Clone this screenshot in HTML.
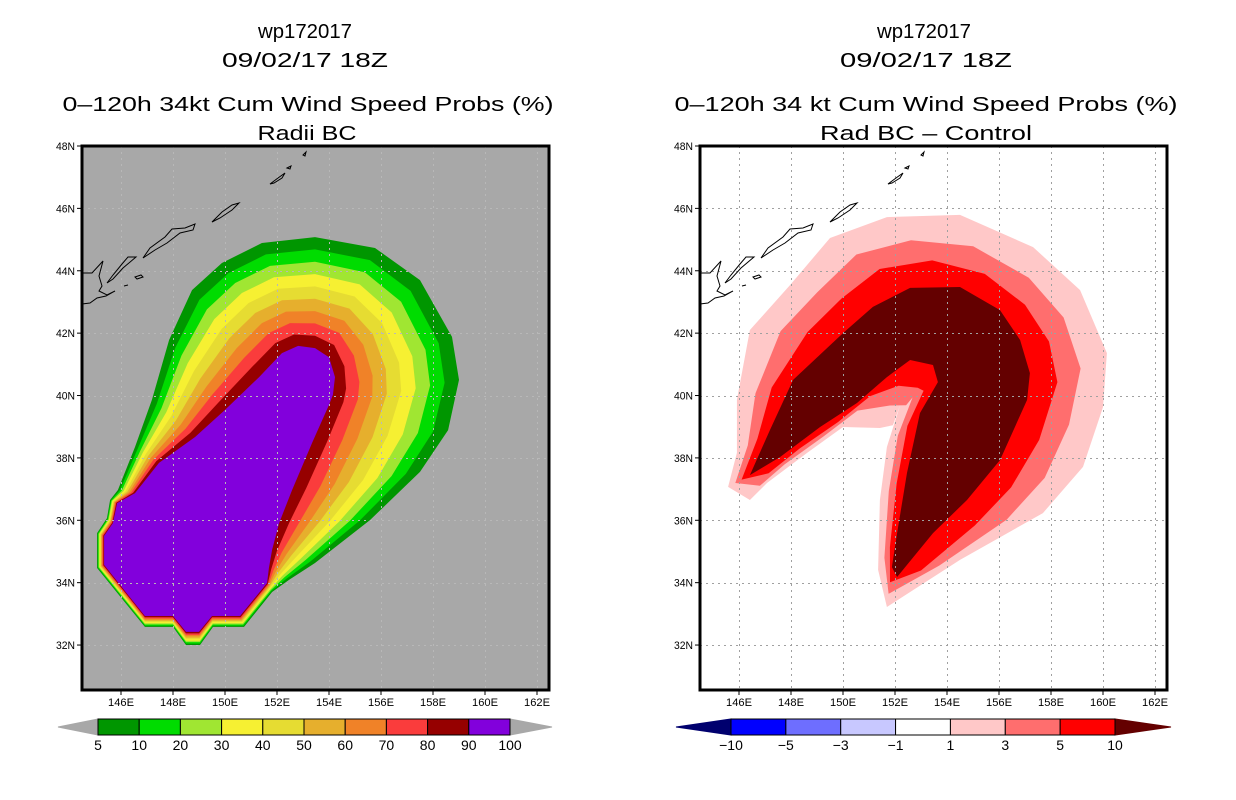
<!DOCTYPE html>
<html><head><meta charset="utf-8"><style>
html,body{margin:0;padding:0;background:#fff;}
svg{display:block;font-family:"Liberation Sans",sans-serif;}
</style></head><body>
<svg id="root" width="1236" height="800" viewBox="0 0 1236 800" xmlns="http://www.w3.org/2000/svg">
<g id="titles" fill="#000" font-size="20">
  <text x="305" y="38" text-anchor="middle" textLength="94" lengthAdjust="spacingAndGlyphs">wp172017</text>
  <text x="305" y="67" text-anchor="middle" textLength="166" lengthAdjust="spacingAndGlyphs">09/02/17 18Z</text>
  <text x="308" y="111" text-anchor="middle" textLength="491" lengthAdjust="spacingAndGlyphs">0–120h 34kt Cum Wind Speed Probs (%)</text>
  <text x="307" y="140" text-anchor="middle" textLength="99" lengthAdjust="spacingAndGlyphs">Radii BC</text>
  <text x="924" y="38" text-anchor="middle" textLength="94" lengthAdjust="spacingAndGlyphs">wp172017</text>
  <text x="926" y="67" text-anchor="middle" textLength="172" lengthAdjust="spacingAndGlyphs">09/02/17 18Z</text>
  <text x="926" y="111" text-anchor="middle" textLength="503" lengthAdjust="spacingAndGlyphs">0–120h 34 kt Cum Wind Speed Probs (%)</text>
  <text x="926" y="140" text-anchor="middle" textLength="212" lengthAdjust="spacingAndGlyphs">Rad BC – Control</text>
</g>
<g id="leftPanel"></g>
<g id="rightPanel"></g>
<g id="leftBar"></g>
<g id="rightBar"></g>
</svg>
<script>
// ---- data ----
const lonTicks = [146,148,150,152,154,156,158,160,162];
const latTicks = [48,46,44,42,40,38,36,34,32];
const leftLevels = ["5","10","20","30","40","50","60","70","80","90","100"];
const leftColors = ["#009600","#00dc00","#a0e632","#f6f032","#e6dc32","#e6af2d","#f08228","#fa3c3c","#960000","#8200dc"];
const rightLevels = ["−10","−5","−3","−1","1","3","5","10"];
const rightColors = ["#0000ff","#6e6eff","#c8c8ff","#ffffff","#ffc8c8","#ff6e6e","#ff0000"];
// 5% contour (lon,lat)
const leftOuterLon = [151.81,150.73,149.54,149.04,148.5,148.0,146.92,145.08,145.08,145.46,145.58,145.88,146.54,147.19,147.85,148.73,149.88,151.42,153.46,155.77,157.5,158.73,159.0,158.58,157.5,155.58,153.46,152.46];
const leftOuterLat = [33.7,32.58,32.58,32.0,32.0,32.58,32.58,34.47,35.59,36.07,36.65,36.97,38.35,39.86,41.78,43.38,44.25,44.89,45.08,44.73,43.7,41.88,40.5,38.89,37.55,36.01,34.63,34.09];
// 90% contour
const leftInnerLon = [151.62,150.58,149.5,149.0,148.5,148.0,146.92,145.35,145.35,145.69,145.85,146.54,147.46,148.85,150.0,151.31,152.19,152.81,153.46,154.0,154.23,154.15,154.0,153.35,152.58,152.08,151.81,151.69];
const leftInnerLat = [33.99,32.93,32.93,32.42,32.42,32.93,32.93,34.57,35.5,35.91,36.55,36.87,37.84,38.67,39.54,40.59,41.36,41.59,41.52,41.23,40.59,40.02,39.7,38.48,36.97,35.91,35.05,34.47];
// +1 contour and +10 contour of difference field
const rightOuterLon = [145.58,145.92,145.92,146.42,147.96,149.5,151.69,154.5,157.31,159.12,160.15,160.0,159.23,157.69,154.5,151.69,151.35,151.42,151.69,152.2,151.92,151.42,150.0,148.62,147.08,146.42];
const rightOuterLat = [37.07,38.16,39.86,42.1,43.54,45.05,45.72,45.79,44.76,43.38,41.36,39.63,37.71,36.23,34.73,33.22,34.41,36.65,38.35,39.7,39.05,38.96,38.99,38.16,37.2,36.65];
const rightInnerLon = [146.42,147.19,148.08,150.0,151.15,152.58,154.5,156.04,156.81,157.19,157.08,156.04,154.77,153.46,152.08,151.88,152.08,152.46,152.96,153.65,153.46,152.58,151.69,150.54,149.12,147.58];
const rightInnerLat = [37.45,38.89,40.5,42.0,42.84,43.45,43.48,42.74,41.78,40.72,39.86,37.93,36.65,35.59,34.18,34.5,35.59,37.52,39.44,40.43,40.98,41.14,40.59,39.76,38.99,38.03];

// ---- projection ----
const NS="http://www.w3.org/2000/svg";
const TOP=146, BOT=690, LON0=144.5, DX=26, DY=31.19;
function mk(tag, attrs, parent){const e=document.createElementNS(NS,tag);for(const k in attrs)e.setAttribute(k,attrs[k]);parent.appendChild(e);return e;}
function projX(x0,lon){return x0+(lon-LON0)*DX;}
function projY(lat){return TOP+(48-lat)*DY;}

function drawPanel(g,x0,bg,gridCol,outerLon,outerLat,innerLon,innerLat,colors,nBands,tStart,prefix){
  const W=467;
  const bgr=mk('rect',{x:x0,y:TOP,width:W,height:BOT-TOP,fill:bg},g);
  
  
  // nested contours: band i from t_i
  for(let i=0;i<nBands;i++){
    const t=tStart[i];
    let d='';
    for(let j=0;j<outerLon.length;j++){
      const lon=outerLon[j]+(innerLon[j]-outerLon[j])*t;
      const lat=outerLat[j]+(innerLat[j]-outerLat[j])*t;
      d+=(j?'L':'M')+projX(x0,lon).toFixed(1)+','+projY(lat).toFixed(1);
    }
    const p=mk('path',{d:d+'Z',fill:colors[i]},g);
    
    
  }
  // grid
  const grid=mk('g',{stroke:gridCol,'stroke-width':1,'stroke-dasharray':'2,4'},g);
  
  
  lonTicks.forEach(l=>{const x=Math.round(projX(x0,l))+0.5;mk('line',{x1:x,x2:x,y1:TOP,y2:BOT},grid);});
  latTicks.forEach(l=>{const y=Math.round(projY(l))+0.5;mk('line',{x1:x0,x2:x0+W,y1:y,y2:y},grid);});
  // coastlines
  const c=mk('g',{fill:'none',stroke:'#000','stroke-width':1,transform:'translate('+(x0-82)+',0)'},g);
  
  
  ['M82,273L92,273L103,261L99,276L102,286L99,291L107,295L115,291L106,296L97,298L90,303L82,304',
   'M107,283L113,275L122,264L128,257L136,257L123,268L113,279Z',
   'M143,258L150,248L165,237L172,229L185,228L195,224L193,230L180,233L167,243L155,250Z',
   'M212,222L222,212L232,205L239,203L232,210L220,218Z',
   'M270,184L278,178L285,173L282,178L274,183Z',
   'M287,168L291,166L290,169Z','M303,155L306,152L305,156Z',
   'M135,277L141,275L143,277L137,279Z','M124,286L128,285'].forEach(d=>mk('path',{d:d},c));
  // frame
  const fr=mk('rect',{x:x0,y:TOP,width:W,height:BOT-TOP,fill:'none',stroke:'#000','stroke-width':3},g);
  
  
  // ticks & labels
  const ax=mk('g',{'font-size':11,fill:'#000'},g);
  
  
  lonTicks.forEach(l=>{const x=projX(x0,l);
    mk('line',{x1:x,x2:x,y1:BOT,y2:BOT+5,stroke:'#000'},ax);
    const t=mk('text',{x:x,y:706,'text-anchor':'middle',textLength:26,lengthAdjust:'spacingAndGlyphs'},ax);t.textContent=l+'E';
    
    });
  latTicks.forEach(l=>{const y=projY(l);
    mk('line',{x1:x0-5,x2:x0,y1:y,y2:y,stroke:'#000'},ax);
    const t=mk('text',{x:x0-7,y:y+4,'text-anchor':'end',textLength:19,lengthAdjust:'spacingAndGlyphs'},ax);t.textContent=l+'N';
    
    });
}
drawPanel(document.getElementById('leftPanel'),82,'#a8a8a8','#b8b8b8',leftOuterLon,leftOuterLat,leftInnerLon,leftInnerLat,leftColors,10,[0,1/9,2/9,3/9,4/9,5/9,6/9,7/9,8/9,1],'left');
drawPanel(document.getElementById('rightPanel'),700,'#ffffff','#a0a0a0',rightOuterLon,rightOuterLat,rightInnerLon,rightInnerLat,['#ffc8c8','#ff6e6e','#ff0000','#640000'],4,[0,0.33,0.62,1],'right');

function drawBar(g,xL,xs,xe,xR,colors,labels,lc,rc,prefix){
  const y0=719,y1=735,ym=727;
  const lt=mk('path',{d:`M${xL},${ym}L${xs},${y0}L${xs},${y1}Z`,fill:lc,stroke:lc},g);
  
  
  const rt=mk('path',{d:`M${xR},${ym}L${xe},${y0}L${xe},${y1}Z`,fill:rc,stroke:rc},g);
  
  
  const w=(xe-xs)/colors.length;
  colors.forEach((c,i)=>{const r=mk('rect',{x:xs+i*w,y:y0,width:w,height:y1-y0,fill:c,stroke:'#000','stroke-width':1},g);
    
    });
  labels.forEach((s,i)=>{const t=mk('text',{x:xs+i*w,y:750,'text-anchor':'middle','font-size':14,fill:'#000'},g);t.textContent=s;
    
    });
}
drawBar(document.getElementById('leftBar'),58,98,510,552,leftColors,leftLevels,'#a8a8a8','#a8a8a8','left');
drawBar(document.getElementById('rightBar'),676,731,1115,1171,rightColors,rightLevels,'#00006e','#640000','right');
</script>
</body></html>
